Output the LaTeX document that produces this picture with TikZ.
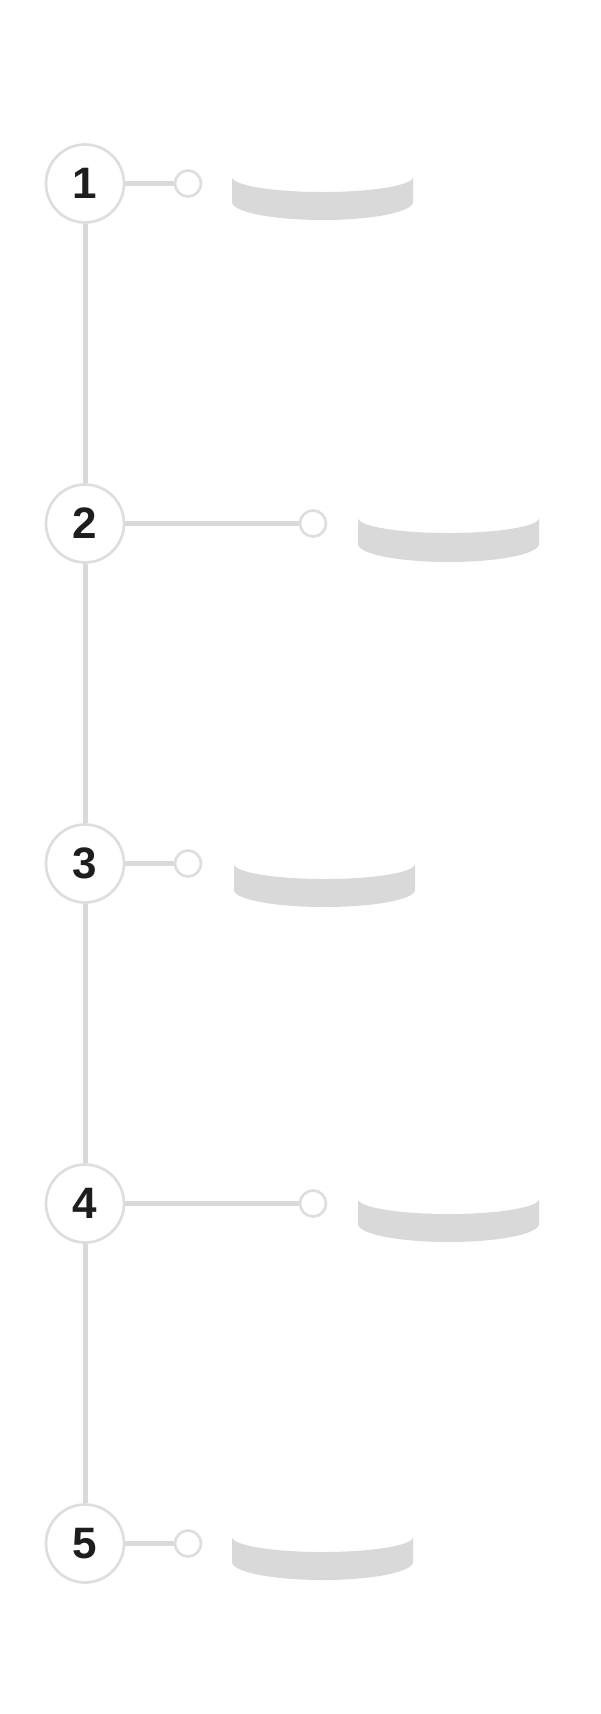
\documentclass[tikz,border=0pt]{standalone}
\usepackage{fontspec}
\setmainfont{Liberation Sans}
\usepackage{tikz}
\usetikzlibrary{positioning}
\definecolor{linegray}{HTML}{DADADA}
\definecolor{ringgray}{HTML}{DEDEDE}
\definecolor{capgray}{HTML}{D9D9D9}
\definecolor{digitink}{HTML}{1E1E1E}

\begin{document}
\begin{tikzpicture}[
  x=1pt, y=-1pt,
  stepnum/.style={circle, draw=ringgray, fill=white, line width=2.7pt, minimum size=78pt, inner sep=0pt, text=digitink, font=\fontsize{44}{44}\selectfont\bfseries},
  dot/.style={circle, draw=ringgray, fill=white, line width=2.7pt, minimum size=26pt, inner sep=0pt},
  spine/.style={linegray, line width=5pt},
  stem/.style={linegray, line width=4.5pt},
  band/.style={fill=capgray}
]
\useasboundingbox (0,0) rectangle (600,1714);
\node[stepnum] (n1) at (85,183.5) {1};
\node[stepnum] (n2) at (85,523.5) {2};
\node[stepnum] (n3) at (85,863.5) {3};
\node[stepnum] (n4) at (85,1203.5) {4};
\node[stepnum] (n5) at (85,1543.5) {5};
\node[dot] (d1) at (188,183.5) {};
\node[dot] (d2) at (313,523.5) {};
\node[dot] (d3) at (188,863.5) {};
\node[dot] (d4) at (313,1203.5) {};
\node[dot] (d5) at (188,1543.5) {};
\draw[spine] (n1) -- (n2);
\draw[spine] (n2) -- (n3);
\draw[spine] (n3) -- (n4);
\draw[spine] (n4) -- (n5);
\draw[stem] (n1) -- (d1);
\draw[stem] (n2) -- (d2);
\draw[stem] (n3) -- (d3);
\draw[stem] (n4) -- (d4);
\draw[stem] (n5) -- (d5);
% flat cylinder bands
\fill[band] (232,177) arc[start angle=180, end angle=0, x radius=90.5, y radius=15] -- (413,202) arc[start angle=0, end angle=180, x radius=90.5, y radius=18] -- cycle;
\fill[band] (358,518) arc[start angle=180, end angle=0, x radius=90.5, y radius=15] -- (539,544) arc[start angle=0, end angle=180, x radius=90.5, y radius=18] -- cycle;
\fill[band] (234,864) arc[start angle=180, end angle=0, x radius=90.5, y radius=15] -- (415,890) arc[start angle=0, end angle=180, x radius=90.5, y radius=17] -- cycle;
\fill[band] (358,1199) arc[start angle=180, end angle=0, x radius=90.5, y radius=15] -- (539,1224) arc[start angle=0, end angle=180, x radius=90.5, y radius=18] -- cycle;
\fill[band] (232,1537) arc[start angle=180, end angle=0, x radius=90.5, y radius=15] -- (413,1562) arc[start angle=0, end angle=180, x radius=90.5, y radius=18] -- cycle;
\end{tikzpicture}
\end{document}
